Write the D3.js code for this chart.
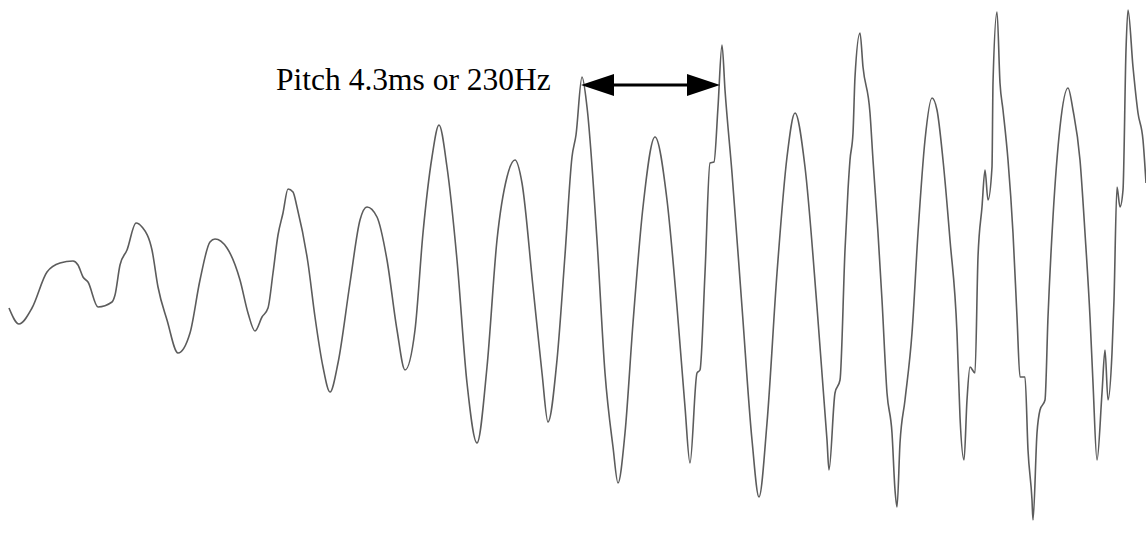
<!DOCTYPE html>
<html lang="en">
<head>
    <meta charset="UTF-8">
    <title>Voiced speech waveform - pitch period</title>
    <script src="https://d3js.org/d3.v7.min.js"></script>
    <style>
        body {
            margin: 0;
            background: #ffffff;
            overflow: hidden;
        }
        .wave {
            fill: none;
            stroke: #5c5c5c;
            stroke-width: 1.6;
        }
        .label {
            font-family: "Liberation Serif", "Times New Roman", serif;
            font-size: 31.5px;
            fill: #000;
        }
    </style>
</head>
<body>
    <script>
        const sampleIndex = [
            9, 19, 32, 47, 60, 73, 78, 83, 88, 98, 112, 115, 120, 127, 136, 142, 152, 158, 167, 178,
            190, 200, 210, 215, 227, 240, 248, 255, 262, 268, 273, 278, 283, 288, 293, 297, 308, 315, 323, 330,
            338, 350, 360, 367, 377, 387, 397, 405, 415, 423, 432, 439, 447, 457, 467, 477, 487, 497, 507, 515,
            522, 533, 542, 548, 557, 565, 572, 576, 582, 587, 597, 605, 613, 618, 625, 633, 643, 655, 667, 677,
            685, 690, 697, 700, 705, 710, 714, 718, 722, 725, 732, 742, 752, 759, 767, 777, 787, 795, 805, 817,
            827, 829, 835, 840, 845, 848, 850, 853, 855, 860, 863, 870, 873, 878, 882, 887, 892, 895, 897, 900,
            905, 912, 918, 925, 932, 937, 943, 950, 957, 960, 964, 967, 970, 975, 978, 982, 985, 988, 992, 993,
            997, 1000, 1003, 1008, 1013, 1017, 1020, 1025, 1028, 1032, 1033, 1037, 1040, 1045, 1048, 1053, 1060, 1068, 1073, 1080,
            1085, 1090, 1093, 1097, 1102, 1105, 1108, 1112, 1114, 1117, 1120, 1123, 1126, 1128, 1133, 1138, 1143, 1146
        ];
        const amplitude = [
            -2800, -4400, -2800, 800, 1700, 1900, 1500, 300, -200, -2700, -2200, -1500, 1500, 3000, 5700, 5300, 3000, -700, -4000, -7300,
            -5300, 0, 3800, 4100, 3200, 0, -3300, -5100, -3700, -2800, 700, 4500, 6700, 9100, 8800, 7300, 1700, -3700, -8700, -11200,
            -8300, -300, 6000, 7300, 6300, 2000, -5000, -9000, -5000, 4700, 12300, 15500, 11300, 2000, -10300, -16300, -8700, 4000, 10300, 12000,
            9700, -700, -9300, -14200, -8000, 2500, 12300, 14500, 20300, 17300, 4000, -9300, -16700, -20300, -15300, -4300, 7300, 14300, 8000, -2700,
            -12700, -18300, -9300, -9000, 700, 11700, 11800, 17300, 23500, 19000, 10700, -2700, -16000, -21700, -14300, 700, 12300, 16700, 11300, -2700,
            -16000, -19000, -11300, -10000, 3000, 9000, 12000, 14700, 20300, 24700, 21300, 16700, 12000, 4700, -2000, -11300, -15300, -21000, -22700, -16300,
            -12000, -5300, 4700, 14000, 18200, 17000, 12000, 4000, -5300, -13700, -18000, -12000, -8700, -9300, 2300, 7300, 11000, 8000, 11300, 19700,
            26800, 19700, 17000, 12000, 4700, -3700, -9700, -9700, -17000, -22000, -24000, -15300, -13000, -12000, -3700, 6300, 15300, 19200, 17000, 12000,
            4700, -3700, -10300, -18000, -11300, -7000, -12000, -7300, -2000, 9300, 7300, 9000, 23000, 27000, 21300, 16700, 14000, 9700
        ];

        // Pitch period annotation (peak to peak, in samples)
        const pitchStart = 581;
        const pitchEnd = 720;
        const pitchLevel = 19500;
        const pitchLabel = "Pitch 4.3ms or 230Hz";

        const width = 1146;
        const height = 558;

        const svg = d3.select("body")
            .append("svg")
            .attr("width", width)
            .attr("height", height);

        const x = d3.scaleLinear()
            .domain([0, 1146])
            .range([0, width]);

        const y = d3.scaleLinear()
            .domain([-27800, 28000])
            .range([height, 0]);

        const points = sampleIndex.map((s, i) => [s, amplitude[i]]);

        const line = d3.line()
            .x(d => x(d[0]))
            .y(d => y(d[1]))
            .curve(d3.curveMonotoneX);

        svg.append("path")
            .datum(points)
            .attr("class", "wave")
            .attr("d", line);

        // double headed arrow between the two peaks
        const ay = y(pitchLevel);
        const x0 = x(pitchStart);
        const x1 = x(pitchEnd);
        const headLen = 33;
        const headHalf = 11;

        svg.append("line")
            .attr("x1", x0 + headLen - 2)
            .attr("x2", x1 - headLen + 2)
            .attr("y1", ay)
            .attr("y2", ay)
            .attr("stroke", "#000")
            .attr("stroke-width", 3.2);

        svg.append("path")
            .attr("d", `M${x0},${ay} L${x0 + headLen},${ay - headHalf} L${x0 + headLen},${ay + headHalf} Z`)
            .attr("fill", "#000");

        svg.append("path")
            .attr("d", `M${x1},${ay} L${x1 - headLen},${ay - headHalf} L${x1 - headLen},${ay + headHalf} Z`)
            .attr("fill", "#000");

        svg.append("text")
            .attr("class", "label")
            .attr("x", 276)
            .attr("y", 90)
            .text(pitchLabel);
    </script>
</body>
</html>
